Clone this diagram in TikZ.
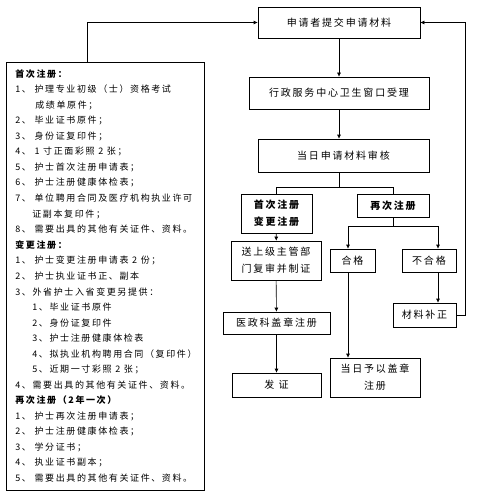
\documentclass[tikz,border=0pt]{standalone}
\usepackage{fontspec}
\setmainfont{Noto Sans CJK SC}[LetterSpace=18]
\usepackage{tikz}
\usetikzlibrary{arrows.meta}

\begin{document}
\begin{tikzpicture}[x=1pt,y=-1pt,>={Latex[length=4pt,width=4pt]},
  font=\fontsize{9}{11}\selectfont, line width=0.6pt,
  box/.style={draw,inner sep=0pt,align=center,font=\fontsize{10}{17}\selectfont}]
\useasboundingbox (0,0) rectangle (487,500);
% main column
\node[box,minimum width=162,minimum height=31] (submit) at (339,22.5) {申请者提交申请材料};
\node[box,minimum width=180,minimum height=32] (accept) at (339,93) {行政服务中心卫生窗口受理};
\node[box,minimum width=171,minimum height=33] (review) at (343.5,155.5) {当日申请材料审核};
% two kinds of registration
\node[box,minimum width=71,minimum height=39,font=\fontsize{10}{17}\selectfont\bfseries] (first) at (276.5,213.5) {首次注册\\变更注册};
\node[box,minimum width=72,minimum height=23,font=\fontsize{10}{17}\selectfont\bfseries] (again) at (393,205.5) {再次注册};
\node[box,minimum width=90,minimum height=39] (send) at (276,260.5) {送上级主管部\\门复审并制证};
\node[box,minimum width=107,minimum height=22] (stamp) at (276.5,323) {医政科盖章注册};
\node[box,minimum width=89,minimum height=24] (issue) at (276.5,385) {发 证};
\node[box,minimum width=45,minimum height=23] (pass) at (352.5,260.5) {合格};
\node[box,minimum width=54,minimum height=23] (fail) at (429,260.5) {不合格};
\node[box,minimum width=63,minimum height=24] (fix) at (424.5,315) {材料补正};
\node[box,minimum width=90,minimum height=39] (today) at (375,377.5) {当日予以盖章\\注册};
% list of materials
\node[draw,minimum width=198,minimum height=428,inner sep=0pt] (list) at (105,276) {};
\foreach \dx/\t [count=\i] in {0/{\bfseries 首次注册：},0/1、 护理专业初级（士）资格考试,20/成绩单原件；,
  0/2、 毕业证书原件；,0/3、 身份证复印件；,0/4、 1 寸正面彩照 2 张；,0/5、 护士首次注册申请表；,
  0/6、 护士注册健康体检表；,0/7、 单位聘用合同及医疗机构执业许可,17/证副本复印件；,
  0/8、 需要出具的其他有关证件、资料。,0/{\bfseries 变更注册：},0/1、 护士变更注册申请表 2 份；,
  0/2、 护士执业证书正、副本,0/3、外省护士入省变更另提供：,17/1、毕业证书原件,17/2、身份证复印件,
  17/3、护士注册健康体检表,17/4、拟执业机构聘用合同（复印件）,17/5、近期一寸彩照 2 张；,
  0/4、需要出具的其他有关证件、资料。,0/{\bfseries 再次注册（2年一次）},0/1、 护士再次注册申请表；,
  0/2、 护士注册健康体检表；,0/3、 学分证书；,0/4、 执业证书副本；,0/5、 需要出具的其他有关证件、资料。}
  \node[anchor=west,inner sep=0pt] (l\i) at (15+\dx,74+15.55*\i-15.55) {\t};
% arrows
\draw[->] (submit) -- (accept);
\draw[->] (accept.south) -- (accept.south |- review.north);
\draw (review.south -| submit) -- ++(0,15) coordinate (split);
\draw (first.north) |- (split) -| (again.north);
\draw[->] (first) -- (send);
\draw[->] (send) -- (stamp);
\draw[->] (stamp) -- (issue);
\draw (again.south) -- ++(0,9) coordinate (split2);
\draw[->] (split2) -| ([xshift=-4.5]pass.north);
\draw[->] (split2) -| ([xshift=9]fail.north);
\draw[->] ([xshift=-4.5]pass.south) -- ([xshift=-4.5]pass.south |- today.north);
\draw[->] ([xshift=9]fail.south) -- ([xshift=9]fail.south |- fix.north);
% back to the start
\draw[->] (fix.east) -- ++(9,0) |- (submit.east);
\draw[->] ([xshift=-18]list.north) |- (submit.west);
\end{tikzpicture}
\end{document}
